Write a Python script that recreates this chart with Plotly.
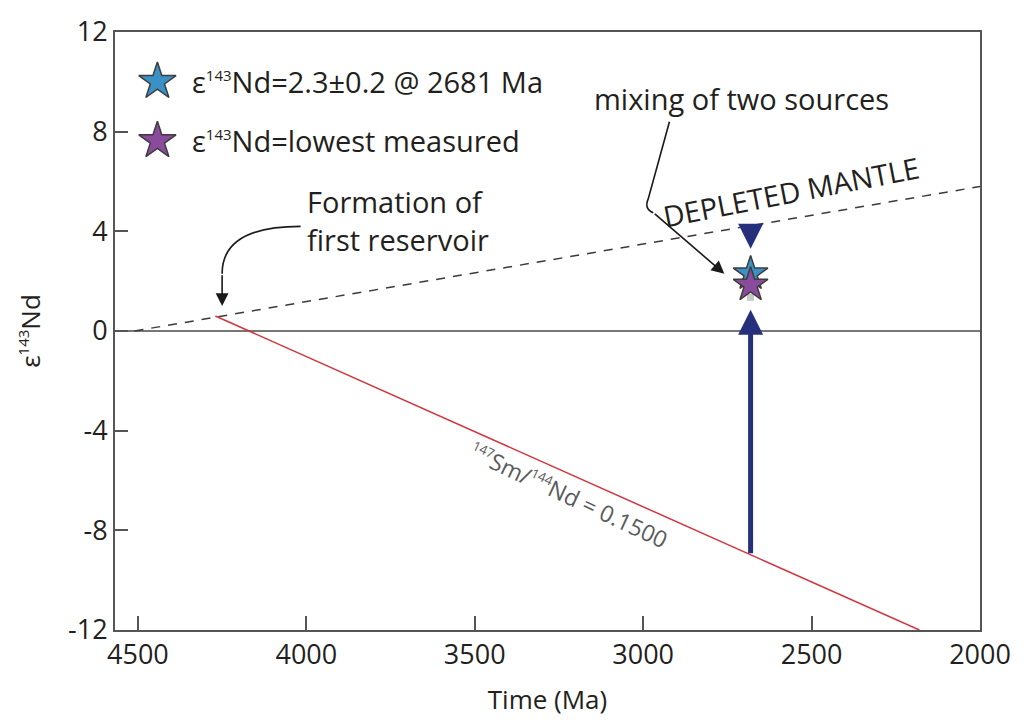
import numpy as np
import plotly.graph_objects as go

# Depleted-mantle evolution line (age in Ma, epsilon Nd)
DM_AGE = [4510, 2000]
DM_EPS = [0.0, 5.8]

# First enriched reservoir, 147Sm/144Nd = 0.1500
RES_AGE = [4270, 2180]
RES_EPS = [0.6, -12.0]

# Sample measurements at 2681 Ma
SAMPLE_AGE = 2681
SAMPLE_EPS = 2.3          # eNd = 2.3 +/- 0.2
LOWEST_EPS = 1.85         # lowest measured eNd
LOWEST_ERR_EPS = 1.35     # lower bound marker

# Arrow tips
MIX_TIP_LOW = 0.85        # tip of the arrow rising from the reservoir
MIX_TIP_HIGH = 3.3        # tip of the arrow falling from the mantle

X_TICKS = [4500, 4000, 3500, 3000, 2500, 2000]
Y_TICKS = [-12, -8, -4, 0, 4, 8, 12]
Y_TICK_TEXT = ["-12", "-8", "-4", "0", "4", "8", "12"]

FONT = "Open Sans"
TXT = "#231f20"
AXC = "#555555"
NAVY = "#262f7c"
RED = "#d2353f"
BLUE = "#3b90c6"
PURPLE = "#8b4b9c"

# mantle and reservoir values at the sample age
dm_at = float(np.interp(SAMPLE_AGE, DM_AGE[::-1], DM_EPS[::-1]))
res_at = float(np.interp(SAMPLE_AGE, RES_AGE[::-1], RES_EPS[::-1]))

fig = go.Figure()

fig.add_trace(go.Scatter(
    x=DM_AGE, y=DM_EPS, mode="lines",
    line=dict(color="#3a3a3a", width=1.5, dash="9px,8px"),
    hoverinfo="skip", showlegend=False))

fig.add_trace(go.Scatter(
    x=RES_AGE, y=RES_EPS, mode="lines",
    line=dict(color=RED, width=1.5),
    hoverinfo="skip", showlegend=False))

# small grey marker below the stars
fig.add_trace(go.Scatter(
    x=[SAMPLE_AGE], y=[LOWEST_ERR_EPS], mode="markers",
    marker=dict(symbol="square", size=7, color="#c8c8c8"),
    hoverinfo="skip", showlegend=False))

fig.add_trace(go.Scatter(
    x=[SAMPLE_AGE], y=[SAMPLE_EPS], mode="markers",
    marker=dict(symbol="star", size=26, color=BLUE,
                line=dict(color="#3d3d3d", width=1.5)),
    showlegend=False))

fig.add_trace(go.Scatter(
    x=[SAMPLE_AGE], y=[LOWEST_EPS], mode="markers",
    marker=dict(symbol="star", size=26, color=PURPLE,
                line=dict(color="#3d3d3d", width=1.5)),
    showlegend=False))

# legend keys on an overlay axis spanning the plot box
fig.add_trace(go.Scatter(
    x=[0.049, 0.049], y=[0.917, 0.818], xaxis="x2", yaxis="y2",
    mode="markers",
    marker=dict(symbol="star", size=28, color=[BLUE, PURPLE],
                line=dict(color="#3d3d3d", width=1.5)),
    hoverinfo="skip", showlegend=False))

SUP = '<sup><span style="font-size:15px">{}</span></sup>'

ann = []
# legend texts
ann.append(dict(xref="paper", yref="paper", x=0.087, y=0.917,
                xanchor="left", yanchor="middle", showarrow=False,
                text="ε" + SUP.format("143") + "Nd=2.3±0.2 @ 2681 Ma",
                font=dict(family=FONT, size=29, color=TXT)))
ann.append(dict(xref="paper", yref="paper", x=0.087, y=0.818,
                xanchor="left", yanchor="middle", showarrow=False,
                text="ε" + SUP.format("143") + "Nd=lowest measured",
                font=dict(family=FONT, size=29, color=TXT)))

ann.append(dict(xref="paper", yref="paper", x=0.220, y=0.684,
                xanchor="left", yanchor="middle", showarrow=False, align="left",
                text="Formation of<br>first reservoir",
                font=dict(family=FONT, size=29, color=TXT)))

ann.append(dict(xref="paper", yref="paper", x=0.551, y=0.888,
                xanchor="left", yanchor="middle", showarrow=False,
                text="mixing of two sources",
                font=dict(family=FONT, size=29, color=TXT)))

ann.append(dict(xref="paper", yref="paper", x=0.781, y=0.734,
                xanchor="center", yanchor="middle", showarrow=False,
                textangle=-11, text="DEPLETED MANTLE",
                font=dict(family=FONT, size=29, color=TXT)))

ann.append(dict(xref="paper", yref="paper", x=0.524, y=0.225,
                xanchor="center", yanchor="middle", showarrow=False,
                textangle=25,
                text='<sup><span style="font-size:13px">147</span></sup>Sm/'
                     '<sup><span style="font-size:13px">144</span></sup>Nd = 0.1500',
                font=dict(family=FONT, size=23, color="#5a5a5a")))

# navy arrows pointing at the samples
ann.append(dict(x=SAMPLE_AGE, y=MIX_TIP_LOW, ax=SAMPLE_AGE, ay=res_at,
                xref="x", yref="y", axref="x", ayref="y", text="",
                showarrow=True, arrowhead=2, arrowsize=1.0, arrowwidth=5,
                arrowcolor=NAVY, standoff=0))
ann.append(dict(x=SAMPLE_AGE, y=MIX_TIP_HIGH, ax=SAMPLE_AGE, ay=dm_at,
                xref="x", yref="y", axref="x", ayref="y", text="",
                showarrow=True, arrowhead=2, arrowsize=1.0, arrowwidth=5,
                arrowcolor=NAVY, standoff=0))

# curved leader arrows: heads
ann.append(dict(x=4250, y=1.0, ax=4250, ay=2.3,
                xref="x", yref="y", axref="x", ayref="y", text="",
                showarrow=True, arrowhead=2, arrowsize=1.6, arrowwidth=1.6,
                arrowcolor="#1a1a1a", standoff=0))
ann.append(dict(x=2759, y=2.3, ax=2970, ay=4.75,
                xref="x", yref="y", axref="x", ayref="y", text="",
                showarrow=True, arrowhead=2, arrowsize=1.6, arrowwidth=1.6,
                arrowcolor="#1a1a1a", standoff=0))

shapes = [
    dict(type="path", xref="x", yref="y",
         path="M 4017,4.2 Q 4250,4.2 4250,2.3",
         line=dict(color="#1a1a1a", width=1.6)),
    dict(type="path", xref="x", yref="y",
         path="M 2922,8.4 L 2985,5.3 Q 2998,4.9 2970,4.75",
         line=dict(color="#1a1a1a", width=1.6)),
]

fig.update_layout(
    width=1028, height=722,
    margin=dict(l=115, r=48, t=27, b=89),
    paper_bgcolor="white", plot_bgcolor="white",
    font=dict(family=FONT, size=26, color=TXT),
    annotations=ann, shapes=shapes,
    showlegend=False,
    xaxis=dict(range=[4568, 2000], tickvals=X_TICKS,
               ticks="inside", ticklen=14, tickwidth=1.5, tickcolor=AXC,
               showline=True, linecolor=AXC, linewidth=2, mirror=True,
               showgrid=False, zeroline=False,
               tickfont=dict(family=FONT, size=27, color=TXT),
               title=dict(text="Time (Ma)", standoff=19,
                          font=dict(family=FONT, size=26, color=TXT))),
    yaxis=dict(range=[-12, 12], tickvals=Y_TICKS, ticktext=Y_TICK_TEXT,
               ticks="inside", ticklen=13, tickwidth=1.5, tickcolor=AXC,
               showline=True, linecolor=AXC, linewidth=2, mirror=True,
               showgrid=False, zeroline=True, zerolinecolor="#777777",
               zerolinewidth=2,
               tickfont=dict(family=FONT, size=27, color=TXT),
               title=dict(text="ε" + SUP.format("143") + "Nd", standoff=20,
                          font=dict(family=FONT, size=26, color=TXT))),
    xaxis2=dict(overlaying="x", range=[0, 1], visible=False, fixedrange=True),
    yaxis2=dict(overlaying="y", range=[0, 1], visible=False, fixedrange=True),
)

fig.write_html("out.html")
